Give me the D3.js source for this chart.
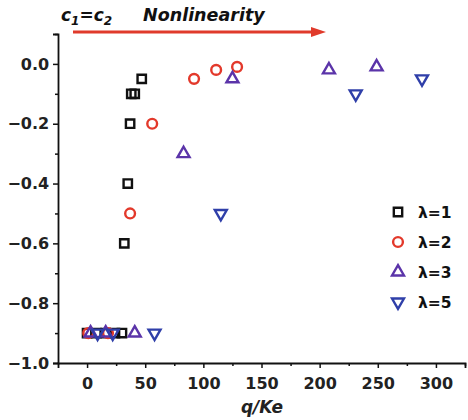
<!DOCTYPE html>
<html>
<head>
<meta charset="utf-8">
<script src="https://cdn.jsdelivr.net/npm/d3@7"></script>
<style>
  body { margin: 0; background: #fff; }
  text { font-family: "DejaVu Sans", sans-serif; font-weight: bold; }
</style>
</head>
<body>
<div id="my_dataviz"></div>
<script>
// values: q/Ke and the y quantity
var lam1_q = [0, 8, 16, 24, 30, 32, 35, 37, 38, 41, 47];
var lam1_y = [-0.9, -0.9, -0.9, -0.9, -0.9, -0.6, -0.4, -0.2, -0.1, -0.1, -0.05];
var lam2_q = [1, 18, 37, 56, 92, 111, 129];
var lam2_y = [-0.9, -0.9, -0.5, -0.2, -0.05, -0.02, -0.01];
var lam3_q = [3, 16, 41, 83, 125, 208, 249];
var lam3_y = [-0.9, -0.9, -0.9, -0.3, -0.05, -0.02, -0.01];
var lam5_q = [9, 22, 58, 115, 231, 288];
var lam5_y = [-0.9, -0.9, -0.9, -0.5, -0.1, -0.05];
var legendLabels = ["λ=1", "λ=2", "λ=3", "λ=5"];
var xTicks = [0, 50, 100, 150, 200, 250, 300];
var yTicks = [-1.0, -0.8, -0.6, -0.4, -0.2, 0.0];

var W = 468, H = 420;
var svg = d3.select("#my_dataviz").append("svg")
    .attr("width", W).attr("height", H);

var x = d3.scaleLinear().domain([-25, 325]).range([58, 465]);
var y = d3.scaleLinear().domain([-1.0, 0.1]).range([363, 34]);

// axes
var axX = svg.append("g").attr("transform", "translate(0," + y(-1.0) + ")")
  .call(d3.axisBottom(x).tickValues(d3.range(-25, 326, 25)).tickSize(5)
    .tickFormat(function(d) { return xTicks.indexOf(d) >= 0 ? d : ""; }));
axX.selectAll(".tick line").filter(function(d) { return xTicks.indexOf(d) < 0; }).attr("y2", 3);
axX.selectAll(".tick").filter(function(d) { return d === -25; }).remove();

var axY = svg.append("g").attr("transform", "translate(" + x(-25) + ",0)")
  .call(d3.axisLeft(y).tickValues(d3.range(-10, 2).map(function(d) { return d / 10; })).tickSize(5)
    .tickFormat(function(d) {
      return yTicks.some(function(t) { return Math.abs(t - d) < 1e-9; }) ? d3.format(".1f")(d) : "";
    }));
axY.selectAll(".tick line").filter(function(d) { return Math.round(d * 10) % 2 !== 0; }).attr("x2", -3);

[axX, axY].forEach(function(a) {
  a.select(".domain").attr("stroke", "#111").attr("stroke-width", 1.8);
  a.selectAll(".tick line").attr("stroke", "#111").attr("stroke-width", 1.5);
  a.selectAll(".tick text").attr("font-size", 16).attr("font-weight", "bold")
    .attr("font-family", "DejaVu Sans, sans-serif").attr("fill", "#222");
});
axX.selectAll(".tick text").attr("dy", "1.15em");
axY.selectAll(".tick text").attr("dx", "-0.05em");

svg.append("text").attr("x", 262).attr("y", 413).attr("text-anchor", "middle")
  .attr("font-size", 17).attr("font-style", "italic").attr("fill", "#222").text("q/Ke");

// title and arrow
var t1 = svg.append("text").attr("x", 61).attr("y", 21).attr("font-size", 17)
  .attr("font-style", "italic").attr("fill", "#111");
t1.append("tspan").text("c");
t1.append("tspan").attr("font-size", 12).attr("dy", 4).text("1");
t1.append("tspan").attr("dy", -4).text("=c");
t1.append("tspan").attr("font-size", 12).attr("dy", 4).text("2");
svg.append("text").attr("x", 143).attr("y", 21).attr("font-size", 17.5)
  .attr("font-style", "italic").attr("fill", "#111").text("Nonlinearity");
svg.append("line").attr("x1", 73).attr("x2", 312).attr("y1", 32).attr("y2", 32)
  .attr("stroke", "#e03a2b").attr("stroke-width", 3);
svg.append("path").attr("d", "M311,27L326,32L311,37Z").attr("fill", "#e03a2b");

// series
var sym = {
  square: d3.symbol().type(d3.symbolSquare).size(70),
  circle: d3.symbol().type(d3.symbolCircle).size(75),
  tri: d3.symbol().type(d3.symbolTriangle).size(62)
};
var series = [
  {q: lam1_q, v: lam1_y, color: "#111", shape: sym.square, rot: 0},
  {q: lam2_q, v: lam2_y, color: "#e3392b", shape: sym.circle, rot: 0},
  {q: lam3_q, v: lam3_y, color: "#5b34a9", shape: sym.tri, rot: 0},
  {q: lam5_q, v: lam5_y, color: "#2f3fa9", shape: sym.tri, rot: 180}
];

series.forEach(function(s) {
  svg.append("g").selectAll("path")
    .data(s.q.map(function(q, i) { return {q: q, v: s.v[i]}; }))
    .enter().append("path")
      .attr("d", s.shape())
      .attr("transform", function(d) {
        return "translate(" + x(d.q) + "," + y(d.v) + ") rotate(" + s.rot + ")";
      })
      .attr("fill", "none")
      .attr("stroke", s.color)
      .attr("stroke-width", 2.4);
});

// legend
var lg = svg.append("g");
series.forEach(function(s, i) {
  var yy = 212 + i * 30;
  lg.append("path").attr("d", s.shape())
    .attr("transform", "translate(398," + yy + ") rotate(" + s.rot + ")")
    .attr("fill", "none").attr("stroke", s.color).attr("stroke-width", 2.4);
  lg.append("text").attr("x", 418).attr("y", yy + 6).attr("font-size", 15.5)
    .attr("fill", "#111").text(legendLabels[i]);
});
</script>
</body>
</html>
